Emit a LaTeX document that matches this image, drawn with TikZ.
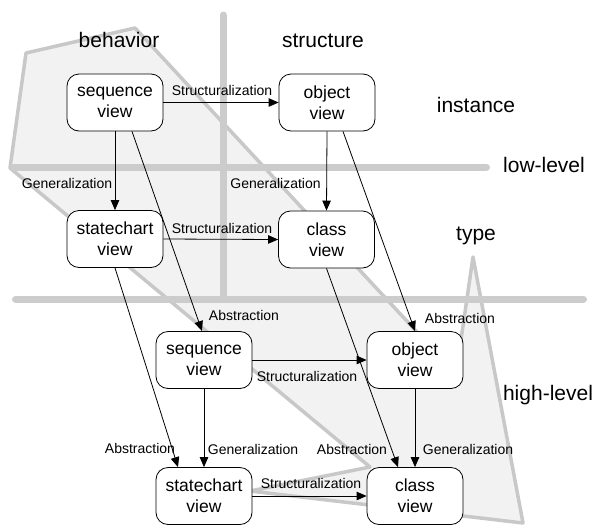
\documentclass[tikz,border=0pt]{standalone}
\usepackage{fontspec}
\setmainfont{Liberation Sans}
\usetikzlibrary{arrows.meta}
\definecolor{polyfill}{HTML}{F2F2F2}
\definecolor{polyline}{HTML}{C8C8C8}
\definecolor{barline}{HTML}{CCCCCC}
\begin{document}
\begin{tikzpicture}[x=1pt,y=-1pt,
  view/.style={draw, line width=0.8pt, rounded corners=12pt, fill=white,
    minimum width=96pt, minimum height=57pt, align=center,
    font=\fontsize{17.5}{21}\selectfont, inner sep=0pt},
  arr/.style={line width=0.8pt, -{Triangle[length=10pt,width=8.5pt]}},
  lab/.style={font=\fontsize{14}{16}\selectfont, anchor=base, inner sep=0pt},
  head/.style={font=\fontsize{21}{24}\selectfont, anchor=base, inner sep=0pt},
  bar/.style={line width=7pt, draw=barline, line cap=round},
  poly/.style={draw=polyline, fill=polyfill, line width=3.5pt, line join=round}]
\useasboundingbox (0,0) rectangle (593,525);
% grouping polygon
\draw[poly] (10,168) -- (26,53) -- (135,28) -- (456,374) -- (473,257)
  -- (523,523) -- (250,491) -- (370,467) -- cycle;
% cross bars
\draw[bar] (223,15) -- (223,299);
\draw[bar] (13.5,167) -- (486.5,167);
\draw[bar] (15.5,299) -- (583.5,299);
% headings
\node[head] (hbeh) at (119,47) {behavior};
\node[head] (hstr) at (323,47) {structure};
\node[head] (hins) at (476,112) {instance};
\node[head] (hlow) at (544,172) {low-level};
\node[head] (htyp) at (476,240) {type};
\node[head] (hhig) at (548,400) {high-level};
% views
\node[view] (sl) at (115,102.5) {sequence\\view};
\node[view] (ol) at (327,102.5) {object\\view};
\node[view] (stl) at (115,239) {statechart\\view};
\node[view] (cll) at (326.5,239.5) {class\\view};
\node[view] (sh) at (204,360) {sequence\\view};
\node[view] (oh) at (415,360) {object\\view};
\node[view] (sth) at (204,496) {statechart\\view};
\node[view] (ch) at (415,496) {class\\view};
% connectors
\draw[arr] (sl.east) -- (ol.west);
\draw[arr] (sl.south) -- (stl.north);
\draw[arr] (stl.east) -- (cll.west);
\draw[arr] (ol.south) -- (cll.north);
\draw[arr] ([xshift=17pt]sl.south) -- ([xshift=-2pt]sh.north);
\draw[arr] ([xshift=16pt]ol.south) -- (oh.north);
\draw[arr] (sh.east) -- (oh.west);
\draw[arr] (stl.south) -- ([xshift=-26pt]sth.north);
\draw[arr] (sh.south) -- (sth.north);
\draw[arr] (cll.south) -- ([xshift=-17pt]ch.north);
\draw[arr] (oh.south) -- (ch.north);
\draw[arr] (sth.east) -- (ch.west);
% connector labels
\node[lab] (l1) at (222,95) {Structuralization};
\node[lab] (l2) at (67,188) {Generalization};
\node[lab] (l3) at (222,233) {Structuralization};
\node[lab] (l4) at (275.5,188) {Generalization};
\node[lab] (l5) at (244,320) {Abstraction};
\node[lab] (l6) at (460,323) {Abstraction};
\node[lab] (l7) at (307,381) {Structuralization};
\node[lab] (l8) at (140,453) {Abstraction};
\node[lab] (l9) at (253,454) {Generalization};
\node[lab] (l10) at (352,454) {Abstraction};
\node[lab] (l11) at (468,454) {Generalization};
\node[lab] (l12) at (311,488) {Structuralization};
\end{tikzpicture}
\end{document}
